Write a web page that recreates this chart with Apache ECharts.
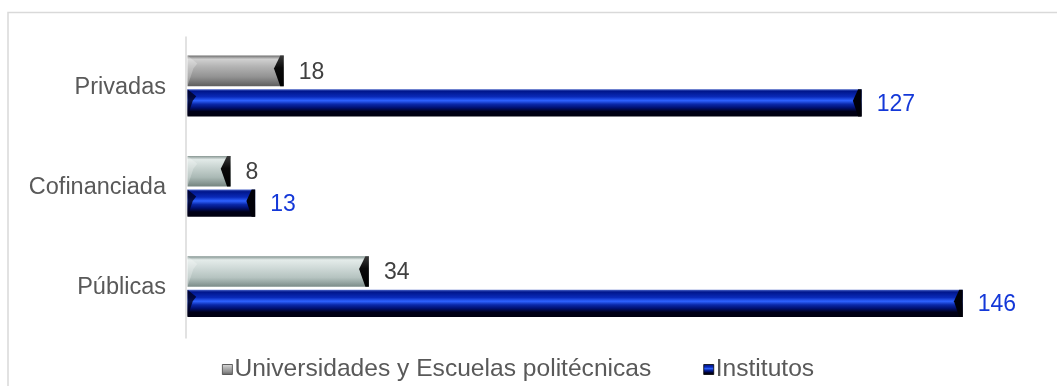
<!DOCTYPE html>
<html>
<head>
<meta charset="utf-8">
<script src="https://cdn.jsdelivr.net/npm/echarts@6/dist/echarts.min.js"></script>
<style>
  html, body { margin: 0; padding: 0; background: #ffffff; }
  #chart { width: 1057px; height: 386px; }
</style>
</head>
<body>
<div id="chart"></div>
<script>
// Categories listed from the bottom of the axis to the top
const categories = ['Públicas', 'Cofinanciada', 'Privadas'];
const universidades = [34, 8, 18];
const institutos = [146, 13, 127];
const seriesNames = ['Universidades y Escuelas politécnicas', 'Institutos'];

const FONT = '"Liberation Sans", Arial, sans-serif';

// Bevel shading per category for the grey bars (bottom to top)
const greyShades = [
  ['#7f908d', '#e4ecea', '#d2dcda', '#b5c3c0', '#7b8b88'],
  ['#84938f', '#e2eae8', '#cbd6d3', '#aab9b5', '#74847f'],
  ['#6e6e6e', '#d0d0d0', '#b4b4b4', '#929292', '#5e5e5e']
];

function faceGradient(c) {
  return new echarts.graphic.LinearGradient(0, 0, 0, 1, [
    { offset: 0, color: c[0] },
    { offset: 0.12, color: c[1] },
    { offset: 0.35, color: c[2] },
    { offset: 0.7, color: c[3] },
    { offset: 1, color: c[4] }
  ]);
}

function blueGradient() {
  return new echarts.graphic.LinearGradient(0, 0, 0, 1, [
    { offset: 0, color: '#4a64c8' },
    { offset: 0.08, color: '#00168c' },
    { offset: 0.28, color: '#0a2ab8' },
    { offset: 0.42, color: '#2e62ff' },
    { offset: 0.55, color: '#0a28a8' },
    { offset: 0.68, color: '#001070' },
    { offset: 0.82, color: '#000018' },
    { offset: 1, color: '#000010' }
  ]);
}

function endGradient() {
  return new echarts.graphic.LinearGradient(0, 0, 0, 1, [
    { offset: 0, color: '#3a3a3a' },
    { offset: 0.4, color: '#0a0a0a' },
    { offset: 1, color: '#000000' }
  ]);
}

// Draws one bevelled bar plus its value label
function bevelBar(api, side, face, endColor, labelColor) {
  const value = api.value(0);
  const cat = api.value(1);
  const base = api.coord([0, cat]);
  const end = api.coord([value, cat]);
  const band = api.size([0, 1])[1];
  const h = side < 0 ? band * 0.305 : band * 0.272;
  const y0 = side < 0 ? base[1] - 1 - h : base[1] + 2;
  const y1 = y0 + h;
  const ym = y0 + h * 0.42;
  const x0 = base[0] + 1.5;
  const x1 = end[0] + (side < 0 ? 2 : 0);
  const b = Math.min(h * 0.32, (x1 - x0) / 3);

  const children = [
    { type: 'rect', shape: { x: x0, y: y0, width: x1 - x0, height: h }, style: { fill: face } },
    // left bevel
    { type: 'polygon', shape: { points: [[x0, y0], [x0 + b, y0 + b * 0.8], [x0 + b * 0.6, ym], [x0, y1]] },
      style: { fill: side < 0 ? 'rgba(255,255,255,0.25)' : 'rgba(0,0,30,0.8)' } },
    // right bevel
    { type: 'polygon', shape: { points: [[x1, y0], [x1 - 3.5, y0], [x1 - b, ym], [x1 - 3.5, y1], [x1, y1]] },
      style: { fill: endColor } },
    { type: 'text',
      style: { text: String(value), x: x1 + 15, y: (y0 + y1) / 2 + 1.5, verticalAlign: 'middle',
               fontSize: 23, fontFamily: FONT, fill: labelColor } }
  ];
  return { type: 'group', children: children };
}

const chart = echarts.init(document.getElementById('chart'), null, { renderer: 'canvas' });

chart.setOption({
  animation: false,
  backgroundColor: '#ffffff',
  graphic: [{
    type: 'rect', left: 5.5, top: 10, z: -10, silent: true,
    shape: { width: 1120, height: 420 },
    style: { fill: 'none', stroke: '#d9d9d9', lineWidth: 1.5 }
  }],
  grid: { left: 186, top: 37, width: 851.2, height: 301, containLabel: false },
  xAxis: {
    type: 'value', min: 0, max: 160, show: false,
    splitLine: { show: false }
  },
  yAxis: {
    type: 'category',
    data: categories,
    axisLine: { show: true, lineStyle: { color: '#d9d9d9', width: 1.5 } },
    axisTick: { show: false },
    axisLabel: { color: '#595959', fontSize: 23.5, fontFamily: FONT, margin: 20 }
  },
  legend: {
    left: 222, top: 357, padding: 0, itemGap: 52,
    itemWidth: 10, itemHeight: 10,
    textStyle: { color: '#595959', fontSize: 24.6, fontFamily: FONT, padding: [0, 0, 0, -3] },
    data: [
      { name: seriesNames[0], icon: 'rect',
        itemStyle: { color: faceGradient(greyShades[2]), borderColor: '#444', borderWidth: 0.8 } },
      { name: seriesNames[1], icon: 'rect',
        itemStyle: { color: blueGradient(), borderColor: '#000', borderWidth: 0.8 } }
    ]
  },
  series: [
    {
      name: seriesNames[0],
      type: 'custom',
      itemStyle: { color: '#9c9c9c' },
      encode: { x: 0, y: 1 },
      data: universidades.map((v, i) => [v, i]),
      renderItem: function (params, api) {
        const i = api.value(1);
        return bevelBar(api, -1, faceGradient(greyShades[i]), endGradient(), '#404040');
      }
    },
    {
      name: seriesNames[1],
      type: 'custom',
      itemStyle: { color: '#000a6e' },
      encode: { x: 0, y: 1 },
      data: institutos.map((v, i) => [v, i]),
      renderItem: function (params, api) {
        return bevelBar(api, 1, blueGradient(), '#000008', '#1438d8');
      }
    }
  ]
});
</script>
</body>
</html>
